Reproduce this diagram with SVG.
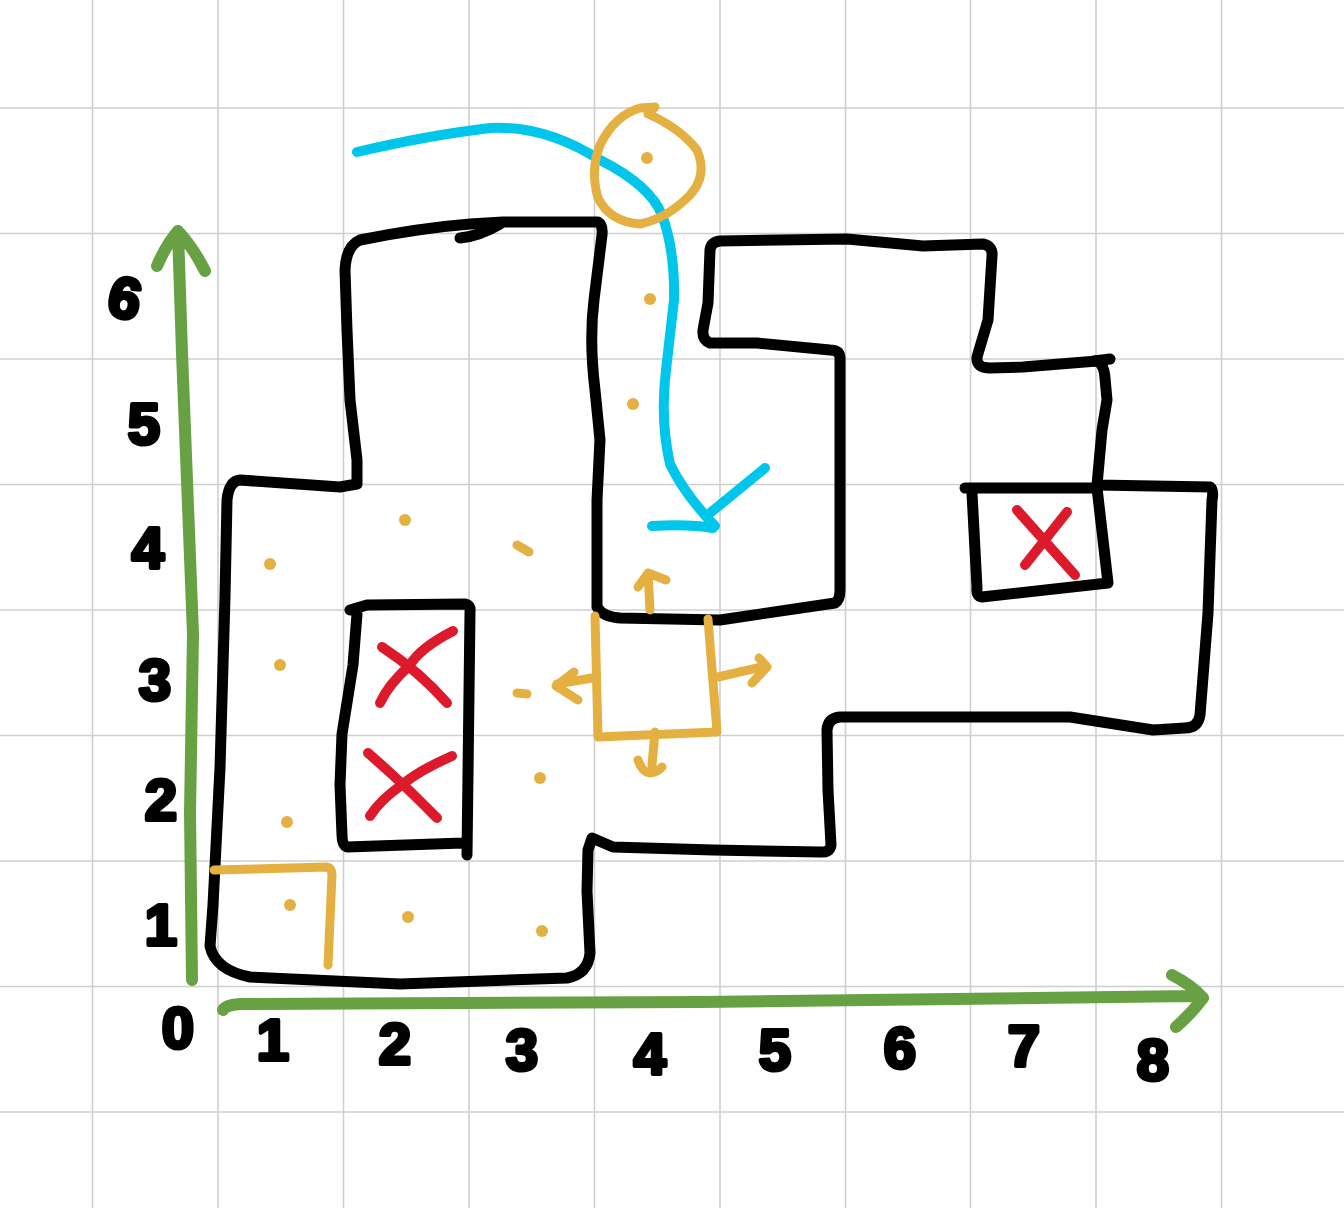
<svg xmlns="http://www.w3.org/2000/svg" width="1344" height="1208" viewBox="0 0 1344 1208">
<style>
.grid line{stroke:#cfcfcf;stroke-width:1.6}
.wall{fill:none;stroke:#000;stroke-width:11;stroke-linejoin:round;stroke-linecap:round}
.org{fill:none;stroke:#E5B042;stroke-width:9;stroke-linejoin:round;stroke-linecap:round}
.dot{fill:#E5B042}
.cy{fill:none;stroke:#00C6EC;stroke-width:10;stroke-linejoin:round;stroke-linecap:round}
.ax{fill:none;stroke:#68A044;stroke-width:12;stroke-linejoin:round;stroke-linecap:round}
.x{fill:none;stroke:#DD1A2C;stroke-width:10;stroke-linecap:round}
.lbl{font-family:"Liberation Sans",Arial,sans-serif;font-weight:bold;font-size:58px;fill:#000;stroke:#000;stroke-width:4;stroke-linejoin:round;text-anchor:middle}
</style>
<rect width="1344" height="1208" fill="#fff"/>
<g class="grid" id="grid">
<line x1="92.5" y1="0" x2="92.5" y2="1208"/><line x1="218" y1="0" x2="218" y2="1208"/><line x1="343.5" y1="0" x2="343.5" y2="1208"/><line x1="469" y1="0" x2="469" y2="1208"/><line x1="594.5" y1="0" x2="594.5" y2="1208"/><line x1="720" y1="0" x2="720" y2="1208"/><line x1="845.5" y1="0" x2="845.5" y2="1208"/><line x1="970.5" y1="0" x2="970.5" y2="1208"/><line x1="1096" y1="0" x2="1096" y2="1208"/><line x1="1221.5" y1="0" x2="1221.5" y2="1208"/>
<line x1="0" y1="108" x2="1344" y2="108"/><line x1="0" y1="233.5" x2="1344" y2="233.5"/><line x1="0" y1="359" x2="1344" y2="359"/><line x1="0" y1="484.5" x2="1344" y2="484.5"/><line x1="0" y1="610" x2="1344" y2="610"/><line x1="0" y1="735.5" x2="1344" y2="735.5"/><line x1="0" y1="861" x2="1344" y2="861"/><line x1="0" y1="986.5" x2="1344" y2="986.5"/><line x1="0" y1="1112" x2="1344" y2="1112"/>
</g>
<g id="walls">
<path class="wall" d="M240 480 L340 487 L357 484 L357 460 L350 400 L347 330 L345 270 Q346 246 360 240 Q420 228 470 224 L503 222 L598 222 Q603 225 602 235 L594 300 Q589 340 595 390 L600 440 L597 500 L597 607 Q603 617 620 618 L720 620 L835 603 Q840 600 840 590 L840 357 Q839 350 830 350 L757 343 L710 343 Q702 340 703 330 L708 303 L710 250 Q711 242 720 241 L847 239 L923 246 L983 244 Q993 246 992 256 L988 320 L977 357 Q976 368 990 368 L1023 367 L1097 361 Q1104 364 1105 378 L1107 400 L1102 430 L1097 485 L1210 487 Q1214 490 1212 500 L1208 613 L1200 715 Q1198 728 1185 728 L1153 730 L1070 717 L840 717 Q828 718 827 730 L828 790 L831 845 Q830 853 820 852 L713 850 L613 847 L592 838 L588 850 L587 891 L590 953 Q588 974 567 978 L400 984 L250 977 Q215 970 210 946 L213 905 L220 768 L225 597 L227 500 Q229 481 240 480 Z"/>
<path class="wall" d="M1094 361 L1110 359"/>
<path class="wall" d="M460 238 Q480 236 500 224"/>
<path class="wall" d="M965 488 L1097 488 L1108 583 L982 597 Q976 596 977 588 L972 493"/>
<path class="wall" d="M350 610 L367 605 L465 604 Q471 605 470 612 L467 855 M463 843 L347 847 Q342 845 342 835 L340 785 L342 734 L353 665 L357 614"/>
</g>
<g id="obstacles">
<path class="x" d="M382 647 Q420 672 447 703 M453 631 Q420 648 410 665 Q388 685 380 703"/>
<path class="x" d="M368 753 Q405 785 437 818 M452 756 Q420 770 403 784 Q380 800 370 816"/>
<path class="x" d="M1017 510 L1075 575 M1067 512 L1025 565"/>
</g>
<g id="axes">
<path class="ax" d="M192 980 L190 812 L193 634 L190 557 L182 353 L178 231 M157 266 Q166 245 178 231 Q193 247 205 271"/>
<path class="ax" d="M223 1010 Q225 1005 240 1004 L700 1002 L1193 996 M1172 975 Q1192 985 1203 998 Q1192 1013 1176 1027"/>
</g>
<g id="labels">
<text class="lbl" x="125" y="318" transform="rotate(12 125 298)">6</text>
<text class="lbl" x="144" y="444">5</text>
<text class="lbl" x="148" y="568">4</text>
<text class="lbl" x="155" y="700">3</text>
<text class="lbl" x="161" y="820" font-size="50">2</text>
<text class="lbl" x="161" y="945" font-size="40">1</text>
<text class="lbl" x="178" y="1048">0</text>
<text class="lbl" x="273" y="1060" font-size="44">1</text>
<text class="lbl" x="395" y="1064" font-size="52">2</text>
<text class="lbl" x="522" y="1070">3</text>
<text class="lbl" x="650" y="1074" font-size="64">4</text>
<text class="lbl" x="775" y="1070">5</text>
<text class="lbl" x="900" y="1068">6</text>
<text class="lbl" x="1024" y="1066">7</text>
<text class="lbl" x="1153" y="1080">8</text>
</g>
<g id="path-arrow">
<path class="cy" d="M357 152 Q430 135 490 128 Q545 125 600 160 Q650 185 662 215 Q675 250 674 300 L666 370 Q660 420 670 464 Q685 495 715 526"/>
<path class="cy" d="M765 468 L710 513 M652 526 Q690 524 713 528"/>
</g>
<g id="robot">
<path class="org" d="M655 107 L648 114 Q680 128 697 150 Q708 175 690 195 Q668 218 640 224 Q610 222 598 198 Q590 170 600 145 Q615 115 640 108 L655 107"/>
<circle class="dot" cx="647" cy="158" r="6"/>
<circle class="dot" cx="650" cy="299" r="6"/>
<circle class="dot" cx="633" cy="404" r="6"/>
</g>
<g id="sensor-box">
<path class="org" d="M595 616 L598 737 L717 732 L708 619"/>
<path class="org" d="M650 610 L648 573 M638 587 L648 573 L666 580"/>
<path class="org" d="M592 678 L557 684 M574 672 L556 686 L578 700"/>
<path class="org" d="M718 677 L766 666 M759 658 L767 667 L752 683"/>
<path class="org" d="M655 732 L652 765 M638 760 Q642 772 650 773 Q658 772 662 767"/>
</g>
<g id="start">
<path class="org" d="M214 870 L327 867 Q332 868 332 875 L328 965"/>
</g>
<g id="waypoints">
<circle class="dot" cx="405" cy="520" r="6"/>
<path class="org" d="M517 545 L529 552"/>
<circle class="dot" cx="270" cy="564" r="6"/>
<circle class="dot" cx="280" cy="665" r="6"/>
<path class="org" d="M517 693 L527 694"/>
<circle class="dot" cx="540" cy="778" r="6"/>
<circle class="dot" cx="287" cy="822" r="6"/>
<circle class="dot" cx="290" cy="905" r="6"/>
<circle class="dot" cx="408" cy="917" r="6"/>
<circle class="dot" cx="542" cy="931" r="6"/>
</g>
</svg>
